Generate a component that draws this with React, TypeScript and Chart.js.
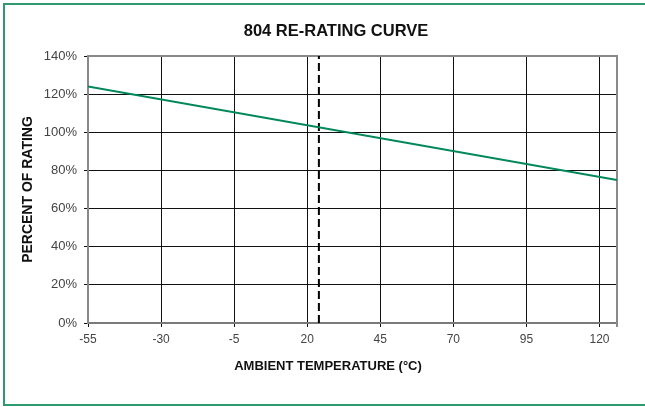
import React, { useEffect, useRef } from "react";
import { Chart, registerables } from "chart.js";

Chart.register(...registerables);

const chartTitle = "804 RE-RATING CURVE";
const xAxisTitle = "AMBIENT TEMPERATURE (°C)";
const yAxisTitle = "PERCENT OF RATING";

const temperatures = [-55, 126];
const ratingPercent = [124, 75];

const markerTemp = 24;
const markerRange = [0, 140];

const xTicks = [-55, -30, -5, 20, 45, 70, 95, 120];
const yTicks = [0, 20, 40, 60, 80, 100, 120, 140];

const FONT = "'Liberation Sans', Arial, Helvetica, sans-serif";
const GREEN = "#00885a";
const FRAME_GREEN = "#2f9a6f";

const framePlugin = {
  id: "frame",
  beforeDraw(chart: any) {
    const { ctx, width, height } = chart;
    ctx.save();
    ctx.fillStyle = "#ffffff";
    ctx.fillRect(0, 0, width, height);
    ctx.strokeStyle = FRAME_GREEN;
    ctx.lineWidth = 2;
    ctx.beginPath();
    ctx.moveTo(width + 5, 4);
    ctx.lineTo(4, 4);
    ctx.lineTo(4, height - 2);
    ctx.lineTo(width + 5, height - 2);
    ctx.stroke();
    ctx.restore();
  },
  beforeDatasetsDraw(chart: any) {
    const { ctx, chartArea } = chart;
    ctx.save();
    ctx.strokeStyle = "#8a8a8a";
    ctx.lineWidth = 2;
    ctx.beginPath();
    ctx.moveTo(chartArea.left, chartArea.top);
    ctx.lineTo(chartArea.right, chartArea.top);
    ctx.lineTo(chartArea.right, chartArea.bottom + 4);
    ctx.stroke();
    ctx.restore();
  },
  afterDraw(chart: any) {
    const { ctx } = chart;
    ctx.save();
    ctx.fillStyle = "#111";
    ctx.textAlign = "center";
    ctx.textBaseline = "middle";
    ctx.font = `bold 16.5px ${FONT}`;
    ctx.fillText(chartTitle, 336, 31);
    ctx.font = `bold 13px ${FONT}`;
    ctx.fillText(xAxisTitle, 328, 366);
    ctx.restore();
  },
};

export default function App() {
  const ref = useRef<HTMLCanvasElement>(null);

  useEffect(() => {
    if (!ref.current) return;
    const chart = new Chart(ref.current, {
      type: "scatter",
      data: {
        datasets: [
          {
            data: temperatures.map((t, i) => ({ x: t, y: ratingPercent[i] })),
            showLine: true,
            borderColor: GREEN,
            backgroundColor: GREEN,
            borderWidth: 2,
            pointRadius: 0,
          },
          {
            data: markerRange.map((v) => ({ x: markerTemp, y: v })),
            showLine: true,
            borderColor: "#000",
            borderWidth: 2,
            borderDash: [8, 4],
            pointRadius: 0,
          },
        ],
      },
      plugins: [framePlugin],
      options: {
        animation: false,
        responsive: false,
        devicePixelRatio: 1,
        layout: { padding: { left: 0, right: 28, top: 56, bottom: 0 } },
        plugins: {
          legend: { display: false },
          tooltip: { enabled: false },
          title: { display: false },
        },
        scales: {
          x: {
            type: "linear",
            min: -55,
            max: 126,
            afterBuildTicks: (scale: any) => {
              scale.ticks = xTicks.map((v) => ({ value: v }));
            },
            afterFit: (scale: any) => {
              scale.height = 84;
            },
            grid: { color: "#111", lineWidth: 1, tickLength: 4 },
            border: { display: true, color: "#7a7a7a", width: 2 },
            ticks: {
              autoSkip: false,
              maxRotation: 0,
              padding: 5,
              color: "#444",
              font: { family: FONT, size: 12 },
            },
            title: { display: false },
          },
          y: {
            type: "linear",
            min: 0,
            max: 140,
            afterBuildTicks: (scale: any) => {
              scale.ticks = yTicks.map((v) => ({ value: v }));
            },
            afterFit: (scale: any) => {
              scale.width = 88;
            },
            grid: { color: "#111", lineWidth: 1, tickLength: 4 },
            border: { display: true, color: "#8a8a8a", width: 2 },
            ticks: {
              padding: 7,
              color: "#444",
              font: { family: FONT, size: 13 },
              callback: (v: any) => `${v}%`,
            },
            title: {
              display: true,
              text: yAxisTitle,
              color: "#111",
              font: { family: FONT, size: 14, weight: "bold" },
              padding: { top: 20, bottom: 0 },
            },
          },
        },
      },
    } as any);
    return () => chart.destroy();
  }, []);

  return (
    <div style={{ position: "fixed", left: 0, top: 0, width: 645, height: 407, overflow: "hidden", background: "#fff" }}>
      <canvas ref={ref} width={645} height={407} style={{ width: 645, height: 407, display: "block" }} />
    </div>
  );
}
